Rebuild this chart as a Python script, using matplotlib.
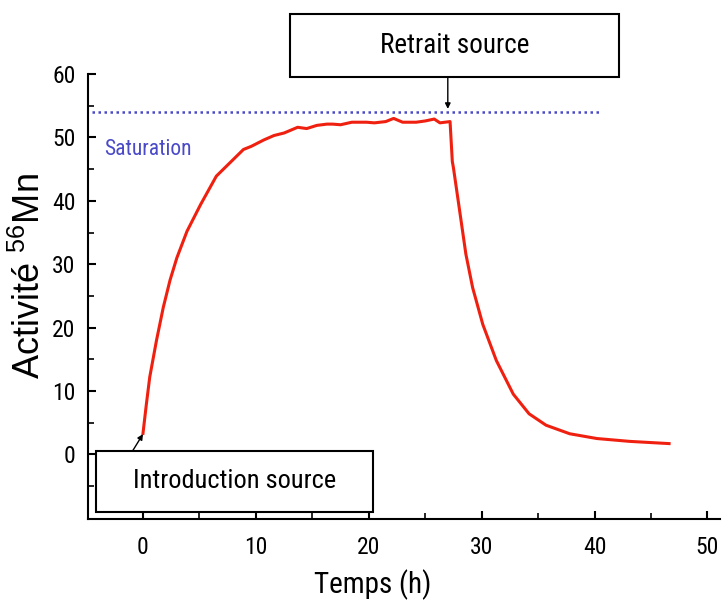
import matplotlib
matplotlib.use("Agg")
import matplotlib.pyplot as plt
from matplotlib.patches import Rectangle
from matplotlib.ticker import FixedLocator

# ---- data ----
time_h = [0.0, 0.3, 0.6, 1.2, 1.8, 2.4, 3.0, 3.9, 5.1, 6.5, 7.7, 8.9, 9.6, 10.7, 11.6,
          12.5, 13.7, 14.5, 15.4, 16.3, 16.8, 17.5, 18.5, 19.8, 20.5, 21.5, 22.2,
          23.0, 24.2, 25.0, 25.8, 26.3, 27.2, 27.4, 27.5, 28.1, 28.6, 29.2, 30.1,
          31.3, 32.8, 34.2, 35.7, 37.8, 40.2, 43.1, 46.6]
activity = [3.3, 7.9, 12.2, 18.0, 23.2, 27.5, 31.0, 35.2, 39.4, 43.9, 46.0, 48.1, 48.6,
            49.6, 50.3, 50.7, 51.6, 51.4, 51.9, 52.1, 52.1, 52.0, 52.4, 52.4, 52.3,
            52.5, 53.0, 52.4, 52.4, 52.6, 52.9, 52.3, 52.5, 46.2, 45.2, 37.8, 31.6,
            26.3, 20.5, 14.8, 9.5, 6.4, 4.6, 3.25, 2.5, 2.05, 1.7]
saturation_level = 54.0
saturation_x = [-4.5, 40.4]
x_major = [0, 10, 20, 30, 40, 50]
x_minor = [5, 15, 25, 35, 45]
y_major = [0, 10, 20, 30, 40, 50, 60]
y_minor = [-5, 5, 15, 25, 35, 45, 55]
t_intro = 0.0
t_retrait = 27.0

NARROW = ['Roboto Condensed', 'Liberation Sans Narrow', 'Liberation Sans', 'DejaVu Sans']
REG = ['Liberation Sans', 'DejaVu Sans']
plt.rcParams['mathtext.fontset'] = 'custom'
plt.rcParams['mathtext.rm'] = 'Liberation Sans'
plt.rcParams['mathtext.it'] = 'Liberation Sans'

fig = plt.figure(figsize=(7.23, 6.01), dpi=100)
ax = fig.add_axes([0.1217, 0.1364, 0.874, 0.7404])

ax.plot(time_h, activity, color='#f02010', lw=2.2, solid_joinstyle='round')
ax.plot(saturation_x, [saturation_level, saturation_level], color='#4a4ac8',
        lw=1.8, linestyle=(0, (1, 1.4)))
ax.text(-3.4, 48.1, 'Saturation', color='#4a4ac8', fontsize=15.5,
        family=NARROW, ha='left', va='center')

ax.set_xlim(-4.87, 51.1)
ax.set_ylim(-10.2, 60)

for s in ['top', 'right']:
    ax.spines[s].set_visible(False)
for s in ['left', 'bottom']:
    ax.spines[s].set_linewidth(1.5)

ax.xaxis.set_major_locator(FixedLocator(x_major))
ax.xaxis.set_minor_locator(FixedLocator(x_minor))
ax.yaxis.set_major_locator(FixedLocator(y_major))
ax.yaxis.set_minor_locator(FixedLocator(y_minor))
ax.tick_params(which='major', direction='in', length=6, width=1.5)
ax.tick_params(which='minor', direction='in', length=4, width=1.2)
ax.tick_params(axis='y', which='major', pad=9)
ax.tick_params(axis='x', which='major', pad=12)
for lab in ax.get_xticklabels() + ax.get_yticklabels():
    lab.set_family(NARROW)
    lab.set_fontsize(17)

ax.set_xlabel('Temps (h)', family=NARROW, fontsize=21)
ax.xaxis.set_label_coords(0.451, -0.113)
ax.set_ylabel(r'Activité $\mathregular{^{56}}$Mn', family=REG, fontsize=26)
ax.yaxis.set_label_coords(-0.064, 0.546)

# annotation boxes
retrait_box = Rectangle((13.0, 59.6), 29.2, 9.9, fill=True, facecolor='white',
                        edgecolor='black', lw=1.5, clip_on=False, zorder=5)
ax.add_patch(retrait_box)
ax.text(13.0 + 29.2 / 2, 59.6 + 9.9 / 2, 'Retrait source', family=NARROW,
        fontsize=19.5, ha='center', va='center', zorder=6, clip_on=False)
intro_box = Rectangle((-4.2, -9.1), 24.6, 9.7, fill=True, facecolor='white',
                      edgecolor='black', lw=1.5, clip_on=False, zorder=5)
ax.add_patch(intro_box)
ax.text(-4.2 + 24.6 / 2, -9.1 + 9.7 / 2, 'Introduction source', family=NARROW,
        fontsize=19, ha='center', va='center', zorder=6, clip_on=False)

ax.annotate('', xy=(t_retrait, 54.5), xytext=(t_retrait, 59.6),
            arrowprops=dict(arrowstyle='-|>', color='black', lw=1.0,
                            mutation_scale=8, shrinkA=0, shrinkB=0),
            annotation_clip=False)
ax.annotate('', xy=(t_intro, 3.2), xytext=(-0.9, 0.6),
            arrowprops=dict(arrowstyle='-|>', color='black', lw=1.0,
                            mutation_scale=8, shrinkA=0, shrinkB=0),
            annotation_clip=False)

fig.savefig('out.png', dpi=100)
